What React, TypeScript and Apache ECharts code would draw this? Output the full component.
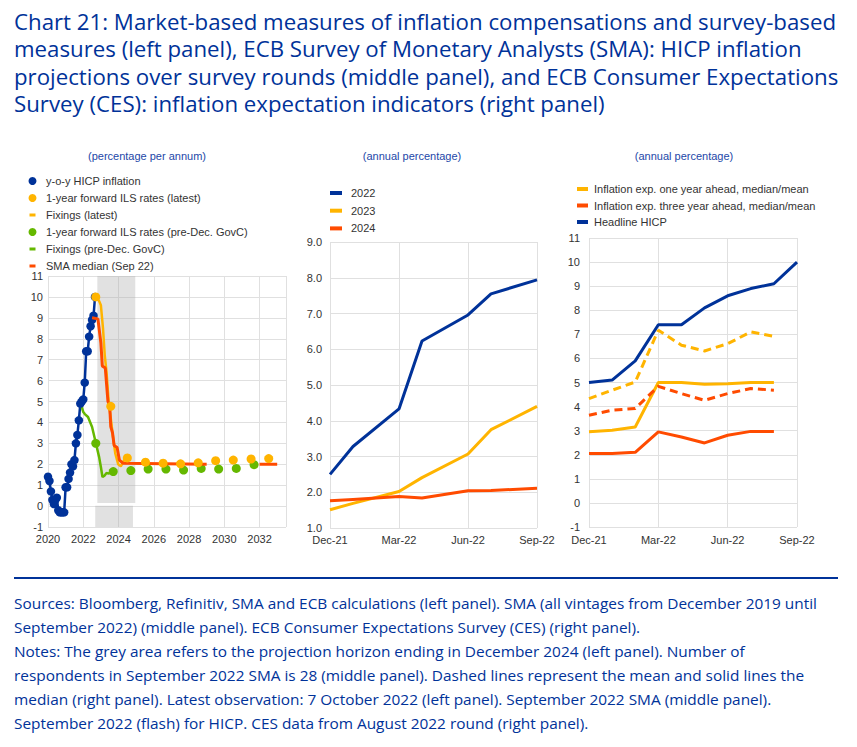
import React, { useEffect, useLayoutEffect, useRef, useState } from 'react';
import * as echarts from 'echarts';

// ---------- Data ----------
// Left panel
const hicpStartYear = 2020;
const hicpMonthly = [
  1.4, 1.2, 0.7, 0.3, 0.1, 0.3, 0.4, -0.2, -0.3, -0.3, -0.3, -0.3,
  0.9, 0.9, 1.3, 1.6, 2.0, 1.9, 2.2, 3.0, 3.4, 4.1, 4.9, 5.0,
  5.1, 5.9, 7.4, 7.4, 8.1, 8.6, 8.9, 9.1, 10.0,
];
const ilsLatestX = [2022.71, 2023.56, 2024.5, 2025.53, 2026.53, 2027.52, 2028.52, 2029.51, 2030.51, 2031.52, 2032.52];
const ilsLatestY = [10.0, 4.77, 2.3, 2.1, 2.05, 2.02, 2.07, 2.17, 2.2, 2.25, 2.27];
const fixLatestX = [2022.75, 2022.9, 2023.0, 2023.12, 2023.22, 2023.32, 2023.45, 2023.56, 2023.69, 2023.82, 2023.98, 2024.13, 2024.32, 2024.45, 2024.55];
const fixLatestY = [10.0, 9.8, 9.6, 8.5, 7.2, 6.4, 4.9, 4.2, 3.3, 2.5, 2.0, 1.9, 2.2, 2.4, 2.3];
const ilsPreDecX = [2022.71, 2023.7, 2024.7, 2025.68, 2026.69, 2027.69, 2028.69, 2029.68, 2030.68, 2031.69];
const ilsPreDecY = [3.0, 1.65, 1.7, 1.77, 1.77, 1.72, 1.8, 1.77, 1.8, 1.98];
const fixPreDecX = [2021.84, 2022.0, 2022.09, 2022.27, 2022.5, 2022.71, 2022.9, 2023.0, 2023.09, 2023.2, 2023.32, 2023.45, 2023.6, 2023.73];
const fixPreDecY = [4.93, 4.5, 4.4, 4.26, 3.78, 3.03, 2.34, 1.87, 1.39, 1.45, 1.58, 1.55, 1.66, 1.71];
const smaMedX = [2022.5, 2022.83, 2023.0, 2023.08, 2023.25, 2023.4, 2023.5, 2023.56, 2023.66, 2023.75, 2023.92, 2024.05, 2024.25, 2029.0, 2030.5, 2032.0, 2033.0];
const smaMedY = [9.0, 8.95, 7.8, 6.7, 6.6, 5.0, 4.8, 3.8, 3.5, 2.9, 2.8, 2.2, 2.05, 2.0, null, 2.0, 2.0];
const leftXTicks = [2020, 2022, 2024, 2026, 2028, 2030, 2032];

// Middle panel
const midMonths = ['Dec-21', 'Jan-22', 'Feb-22', 'Mar-22', 'Apr-22', 'May-22', 'Jun-22', 'Jul-22', 'Aug-22', 'Sep-22'];
const smaRounds = ['Dec-21', 'Jan-22', 'Mar-22', 'Apr-22', 'Jun-22', 'Jul-22', 'Sep-22'];
const sma2022 = [2.5, 3.28, 4.33, 6.23, 6.96, 7.55, 7.94];
const sma2023 = [1.51, 1.69, 2.02, 2.41, 3.07, 3.75, 4.4];
const sma2024 = [1.76, 1.8, 1.88, 1.84, 2.04, 2.05, 2.11];

// Right panel
const cesMonths = ['Dec-21', 'Jan-22', 'Feb-22', 'Mar-22', 'Apr-22', 'May-22', 'Jun-22', 'Jul-22', 'Aug-22'];
const hicpHeadline = [5.0, 5.1, 5.9, 7.4, 7.4, 8.1, 8.6, 8.9, 9.1, 10.0];
const exp1yMedian = [2.95, 3.02, 3.15, 5.0, 5.0, 4.93, 4.95, 5.0, 5.0];
const exp1yMean = [4.33, 4.68, 5.02, 7.17, 6.55, 6.31, 6.61, 7.1, 6.92];
const exp3yMedian = [2.05, 2.05, 2.1, 2.95, 2.74, 2.49, 2.81, 2.97, 2.97];
const exp3yMean = [3.64, 3.85, 3.92, 4.84, 4.54, 4.26, 4.54, 4.75, 4.68];

const titleLines = [
  'Chart 21: Market-based measures of inflation compensations and survey-based',
  'measures (left panel), ECB Survey of Monetary Analysts (SMA): HICP inflation',
  'projections over survey rounds (middle panel), and ECB Consumer Expectations',
  'Survey (CES): inflation expectation indicators (right panel)',
];
const footerLines = [
  'Sources: Bloomberg, Refinitiv, SMA and ECB calculations (left panel). SMA (all vintages from December 2019 until',
  'September 2022) (middle panel). ECB Consumer Expectations Survey (CES) (right panel).',
  'Notes: The grey area refers to the projection horizon ending in December 2024 (left panel). Number of',
  'respondents in September 2022 SMA is 28 (middle panel). Dashed lines represent the mean and solid lines the',
  'median (right panel). Latest observation: 7 October 2022 (left panel). September 2022 SMA (middle panel).',
  'September 2022 (flash) for HICP. CES data from August 2022 round (right panel).',
];

// ---------- Styling ----------
const FONT = '"Liberation Sans", Arial, Helvetica, sans-serif';
const BLUE = '#003299';
const YELLOW = '#ffb400';
const RED = '#ff4b00';
const GREEN = '#65b800';
const GRID = '#e0e0e0';
const LABEL = '#333333';
const SUB = '#1d47a8';
const DASH_ICON = 'path://M0,0M8,8M1,2.5h6v3h-6z';

const zip = (xs: number[], ys: (number | null)[]) => xs.map((x, i) => [x, ys[i]]);

function FitLines(props: { lines: string[]; top: number; left: number; fontSize: number; lineHeight: number; target: number }) {
  const ref = useRef<HTMLDivElement>(null);
  const [scale, setScale] = useState(1);
  useLayoutEffect(() => {
    const first = ref.current?.querySelector('span');
    if (first) {
      const w = (first as HTMLElement).getBoundingClientRect().width;
      if (w > 0) setScale(props.target / w);
    }
  }, []);
  return (
    <div
      ref={ref}
      style={{
        position: 'absolute', left: props.left, top: props.top, transform: `scaleX(${scale})`,
        transformOrigin: '0 0', whiteSpace: 'nowrap', fontFamily: '"Open Sans", sans-serif',
        fontSize: props.fontSize, lineHeight: `${props.lineHeight}px`, color: BLUE,
      }}
    >
      {props.lines.map((l, i) => (
        <div key={i}><span>{l}</span></div>
      ))}
    </div>
  );
}

export default function App() {
  const ref = useRef<HTMLDivElement>(null);
  useEffect(() => {
    if (!ref.current) return;
    const chart = echarts.init(ref.current, null, { renderer: 'svg' });
    const axisLabel = { color: LABEL, fontSize: 11, fontFamily: FONT };
    const split = { show: true, lineStyle: { color: GRID, width: 1 } };
    const legendText = { color: LABEL, fontSize: 11, fontFamily: FONT, lineHeight: 12 };
    const midX = (m: string) => midMonths.indexOf(m);

    const option: any = {
      animation: false,
      backgroundColor: '#ffffff',
      graphic: [
        { type: 'text', style: { text: '(percentage per annum)', x: 147, y: 156, align: 'center', verticalAlign: 'middle', fill: SUB, font: `11px ${FONT}` } },
        { type: 'text', style: { text: '(annual percentage)', x: 412, y: 156, align: 'center', verticalAlign: 'middle', fill: SUB, font: `11px ${FONT}` } },
        { type: 'text', style: { text: '(annual percentage)', x: 684, y: 156, align: 'center', verticalAlign: 'middle', fill: SUB, font: `11px ${FONT}` } },
      ],
      legend: [
        {
          orient: 'vertical', left: 28.5, top: 175, padding: 0, itemWidth: 9, itemHeight: 8, itemGap: 5, selectedMode: false,
          textStyle: { ...legendText, padding: [0, 0, 0, 4] },
          data: [
            { name: 'y-o-y HICP inflation', icon: 'circle' },
            { name: '1-year forward ILS rates (latest)', icon: 'circle' },
            { name: 'Fixings (latest)', icon: DASH_ICON },
            { name: '1-year forward ILS rates (pre-Dec. GovC)', icon: 'circle' },
            { name: 'Fixings (pre-Dec. GovC)', icon: DASH_ICON },
            { name: 'SMA median (Sep 22)', icon: DASH_ICON },
          ],
        },
        {
          orient: 'vertical', left: 330, top: 187, padding: 0, itemWidth: 12, itemHeight: 4, itemGap: 5.7, selectedMode: false,
          icon: 'rect',
          textStyle: { ...legendText, padding: [0, 0, 0, 4] },
          data: ['2022', '2023', '2024'],
        },
        {
          orient: 'vertical', left: 577, top: 183, padding: 0, itemWidth: 11, itemHeight: 4, itemGap: 4.5, selectedMode: false,
          icon: 'rect',
          textStyle: { ...legendText, padding: [0, 0, 0, 1] },
          data: ['Inflation exp. one year ahead, median/mean', 'Inflation exp. three year ahead, median/mean', 'Headline HICP'],
        },
      ],
      grid: [
        { left: 48, top: 276, width: 238, height: 251 },
        { left: 330, top: 242, width: 207, height: 286 },
        { left: 589, top: 238, width: 208, height: 289 },
      ],
      xAxis: [
        {
          gridIndex: 0, type: 'value', min: 2020, max: 2033.5, interval: 2,
          axisLine: { show: false }, axisTick: { show: false }, splitLine: split,
          axisLabel: { ...axisLabel, margin: 6, formatter: (v: number) => (leftXTicks.includes(Math.round(v * 100) / 100) ? String(v) : '') },
        },
        {
          gridIndex: 1, type: 'value', min: 0, max: 9, interval: 3,
          axisLine: { show: false }, axisTick: { show: false }, splitLine: split,
          axisLabel: { ...axisLabel, margin: 6, formatter: (v: number) => midMonths[v] || '' },
        },
        {
          gridIndex: 2, type: 'value', min: 0, max: 9, interval: 3,
          axisLine: { show: false }, axisTick: { show: false }, splitLine: split,
          axisLabel: { ...axisLabel, margin: 7, formatter: (v: number) => midMonths[v] || '' },
        },
      ],
      yAxis: [
        {
          gridIndex: 0, type: 'value', min: -1, max: 11, interval: 1,
          axisLine: { show: false }, axisTick: { show: false }, splitLine: split,
          axisLabel: { ...axisLabel, margin: 5 },
        },
        {
          gridIndex: 1, type: 'value', min: 1, max: 9, interval: 1,
          axisLine: { show: false }, axisTick: { show: false }, splitLine: split,
          axisLabel: { ...axisLabel, margin: 8, formatter: (v: number) => v.toFixed(1) },
        },
        {
          gridIndex: 2, type: 'value', min: -1, max: 11, interval: 1,
          axisLine: { show: false }, axisTick: { show: false }, splitLine: split,
          axisLabel: { ...axisLabel, margin: 9 },
        },
      ],
      series: [
        // ---- left panel ----
        {
          name: 'y-o-y HICP inflation', type: 'line', xAxisIndex: 0, yAxisIndex: 0,
          data: hicpMonthly.map((v, i) => [hicpStartYear + i / 12, v]),
          symbol: 'circle', symbolSize: 8.5, showAllSymbol: true,
          itemStyle: { color: BLUE }, lineStyle: { color: BLUE, width: 2.5 }, z: 3,
          markArea: {
            silent: true,
            itemStyle: { color: 'rgba(170,170,170,0.35)' },
            data: [
              [{ xAxis: 2022.8, yAxis: 0.15 }, { xAxis: 2024.95, yAxis: 11 }],
              [{ xAxis: 2022.68, yAxis: -1 }, { xAxis: 2024.82, yAxis: 0.02 }],
            ],
          },
        },
        {
          name: 'Fixings (pre-Dec. GovC)', type: 'line', xAxisIndex: 0, yAxisIndex: 0,
          data: zip(fixPreDecX, fixPreDecY), symbol: 'none',
          itemStyle: { color: GREEN }, lineStyle: { color: GREEN, width: 2.5 }, z: 3,
        },
        {
          name: '1-year forward ILS rates (pre-Dec. GovC)', type: 'scatter', xAxisIndex: 0, yAxisIndex: 0,
          data: zip(ilsPreDecX, ilsPreDecY), symbol: 'circle', symbolSize: 9,
          itemStyle: { color: GREEN, opacity: 1 }, z: 4,
        },
        {
          name: 'Fixings (latest)', type: 'line', xAxisIndex: 0, yAxisIndex: 0,
          data: zip(fixLatestX, fixLatestY), symbol: 'none',
          itemStyle: { color: YELLOW }, lineStyle: { color: YELLOW, width: 2.5 }, z: 4,
        },
        {
          name: 'SMA median (Sep 22)', type: 'line', xAxisIndex: 0, yAxisIndex: 0,
          data: zip(smaMedX, smaMedY), symbol: 'none', connectNulls: false,
          itemStyle: { color: RED }, lineStyle: { color: RED, width: 3 }, z: 5,
        },
        {
          name: '1-year forward ILS rates (latest)', type: 'scatter', xAxisIndex: 0, yAxisIndex: 0,
          data: zip(ilsLatestX, ilsLatestY), symbol: 'circle', symbolSize: 9,
          itemStyle: { color: YELLOW, opacity: 1 }, z: 6,
        },
        // ---- middle panel ----
        {
          name: '2022', type: 'line', xAxisIndex: 1, yAxisIndex: 1, symbol: 'none',
          data: smaRounds.map((m, i) => [midX(m), sma2022[i]]),
          itemStyle: { color: BLUE }, lineStyle: { color: BLUE, width: 3 },
        },
        {
          name: '2023', type: 'line', xAxisIndex: 1, yAxisIndex: 1, symbol: 'none',
          data: smaRounds.map((m, i) => [midX(m), sma2023[i]]),
          itemStyle: { color: YELLOW }, lineStyle: { color: YELLOW, width: 3 },
        },
        {
          name: '2024', type: 'line', xAxisIndex: 1, yAxisIndex: 1, symbol: 'none',
          data: smaRounds.map((m, i) => [midX(m), sma2024[i]]),
          itemStyle: { color: RED }, lineStyle: { color: RED, width: 3 },
        },
        // ---- right panel ----
        {
          name: 'Inflation exp. one year ahead, median/mean', type: 'line', xAxisIndex: 2, yAxisIndex: 2, symbol: 'none',
          data: cesMonths.map((m, i) => [midX(m), exp1yMedian[i]]),
          itemStyle: { color: YELLOW }, lineStyle: { color: YELLOW, width: 3 },
        },
        {
          name: 'Inflation exp. one year ahead, mean', type: 'line', xAxisIndex: 2, yAxisIndex: 2, symbol: 'none',
          data: cesMonths.map((m, i) => [midX(m), exp1yMean[i]]),
          itemStyle: { color: YELLOW }, lineStyle: { color: YELLOW, width: 3, type: [8, 5] },
        },
        {
          name: 'Inflation exp. three year ahead, median/mean', type: 'line', xAxisIndex: 2, yAxisIndex: 2, symbol: 'none',
          data: cesMonths.map((m, i) => [midX(m), exp3yMedian[i]]),
          itemStyle: { color: RED }, lineStyle: { color: RED, width: 3 },
        },
        {
          name: 'Inflation exp. three year ahead, mean', type: 'line', xAxisIndex: 2, yAxisIndex: 2, symbol: 'none',
          data: cesMonths.map((m, i) => [midX(m), exp3yMean[i]]),
          itemStyle: { color: RED }, lineStyle: { color: RED, width: 3, type: [8, 5] },
        },
        {
          name: 'Headline HICP', type: 'line', xAxisIndex: 2, yAxisIndex: 2, symbol: 'none',
          data: midMonths.map((m, i) => [i, hicpHeadline[i]]),
          itemStyle: { color: BLUE }, lineStyle: { color: BLUE, width: 3 },
        },
      ],
    };
    chart.setOption(option);
    return () => chart.dispose();
  }, []);

  return (
    <div style={{ position: 'absolute', left: 0, top: 0, width: 857, height: 747, background: '#fff', overflow: 'hidden' }}>
      <div ref={ref} style={{ position: 'absolute', left: 0, top: 0, width: 857, height: 747 }} />
      <FitLines lines={titleLines} left={14} top={8} fontSize={22} lineHeight={27.4} target={822} />
      <div style={{ position: 'absolute', left: 14, top: 577, width: 824, height: 2, background: BLUE }} />
      <FitLines lines={footerLines} left={14} top={591} fontSize={15} lineHeight={24} target={803} />
    </div>
  );
}
